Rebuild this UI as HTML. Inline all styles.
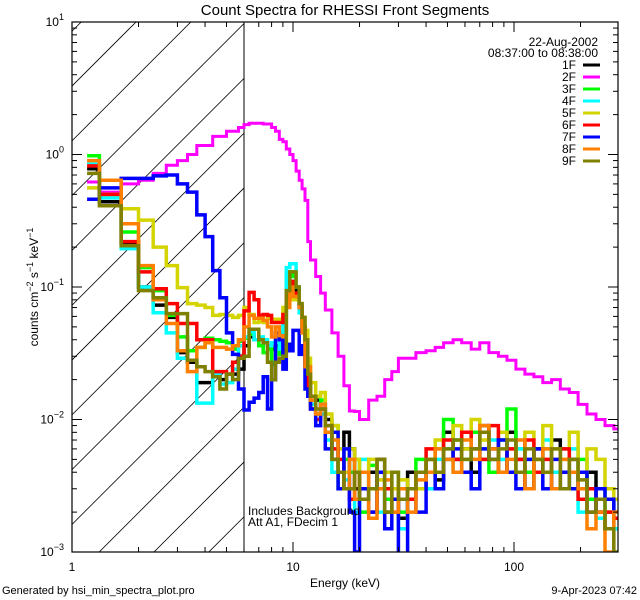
<!DOCTYPE html>
<html><head><meta charset="utf-8"><style>
html,body{margin:0;padding:0;background:#fff;}
svg{display:block;font-family:"Liberation Sans",sans-serif;}
</style></head><body>
<svg id="chart" width="640" height="600" viewBox="0 0 640 600" xmlns="http://www.w3.org/2000/svg">
<rect x="0" y="0" width="640" height="600" fill="#fff"/>
<text x="345" y="15" font-size="15" text-anchor="middle">Count Spectra for RHESSI Front Segments</text>
<defs><clipPath id="plotclip"><rect x="72" y="22" width="546" height="530"/></clipPath>
<clipPath id="hatchclip"><rect x="72" y="22" width="172" height="530"/></clipPath></defs>
<g id="hatch" clip-path="url(#hatchclip)"></g>
<line x1="244" y1="22" x2="244" y2="552" stroke="#000" stroke-width="1"/>
<g id="series" clip-path="url(#plotclip)"></g>
<g id="axes"></g>
<text x="345" y="587" font-size="12" text-anchor="middle">Energy (keV)</text>
<text transform="translate(38,287) rotate(-90)" font-size="12" text-anchor="middle">counts cm<tspan font-size="9" dy="-5">−2</tspan><tspan dy="5"> s</tspan><tspan font-size="9" dy="-5">−1</tspan><tspan dy="5"> keV</tspan><tspan font-size="9" dy="-5">−1</tspan></text>
<text x="248" y="515" font-size="12">Includes Background</text>
<text x="248" y="526" font-size="12">Att A1, FDecim 1</text>
<text x="598" y="46" font-size="12" text-anchor="end">22-Aug-2002</text>
<text x="598" y="57" font-size="12" text-anchor="end">08:37:00 to 08:38:00</text>
<g id="legend"></g>
<text x="2" y="594" font-size="11">Generated by hsi_min_spectra_plot.pro</text>
<text x="637" y="594" font-size="11" text-anchor="end">9-Apr-2023 07:42</text>
</svg>
<script>
const edges = [1.17,1.33,1.67,2,2.33,2.67,3,3.33,3.67,4,4.33,4.67,5,5.33,5.67,6,6.33,6.67,7,7.33,7.67,8,8.33,8.67,9,9.33,9.67,10,10.33,10.67,11,11.33,11.67,12,12.67,13.33,14,15,16,17,18,19,20,22,24,26,28,30,33,36,40,44,48,53,58,64,70,77,85,93,102,112,123,135,148,162,178,195,214,235,258,283,300];
const seriesNames = ["1F","2F","3F","4F","5F","6F","7F","8F","9F"];
const seriesColors = ["#000000","#ff00ff","#00ff00","#00ffff","#d4d400","#ff0000","#0000ff","#ff8000","#808000"];
const s1F = [0.78,0.44,0.215,0.1,0.073,0.059,0.032,0.027,0.019,0.019,0.022,0.02,0.022,0.022,0.024,0.036,0.042,0.04,0.036,0.038,0.036,0.034,0.036,0.036,0.045,0.085,0.11,0.1,0.09,0.07,0.05,0.025,0.018,0.015,0.014,
0.012,0.010,0.005,0.004,0.008,0.006,0.003,0.0025,0.004,0.005,0.002,0.003,0.0018,0.004,0.003,0.005,0.0035,0.008,0.005,0.006,0.004,0.009,0.006,0.004,0.008,0.005,0.003,0.006,0.004,0.007,0.003,0.005,0.003,0.004,0.002,0.0015,0.0025];
const s2F = [0.62,0.52,0.6,0.64,0.72,0.83,0.9,1.0,1.17,1.17,1.37,1.37,1.5,1.5,1.6,1.68,1.72,1.72,1.72,1.7,1.7,1.6,1.5,1.3,1.25,1.1,1.0,0.9,0.75,0.64,0.55,0.45,0.22,0.16,0.12,
0.09,0.067,0.045,0.03,0.018,0.0116,0.0115,0.01,0.014,0.015,0.02,0.023,0.029,0.029,0.032,0.033,0.035,0.038,0.04,0.038,0.034,0.038,0.032,0.03,0.028,0.024,0.022,0.021,0.019,0.02,0.017,0.016,0.013,0.011,0.01,0.009,0.0085];
const s3F = [0.98,0.5,0.26,0.14,0.094,0.061,0.042,0.033,0.035,0.041,0.04,0.039,0.038,0.034,0.039,0.041,0.044,0.04,0.036,0.032,0.034,0.026,0.034,0.031,0.036,0.12,0.13,0.12,0.1,0.07,0.05,0.03,0.02,0.013,0.011,
0.014,0.008,0.009,0.003,0.005,0.004,0.005,0.002,0.0045,0.003,0.0025,0.004,0.002,0.003,0.005,0.004,0.006,0.010,0.007,0.005,0.008,0.005,0.004,0.007,0.012,0.006,0.004,0.005,0.006,0.004,0.006,0.003,0.005,0.0025,0.003,0.002,0.0018];
const s4F = [0.85,0.47,0.195,0.1,0.064,0.045,0.029,0.028,0.0133,0.0133,0.022,0.0185,0.019,0.024,0.036,0.042,0.046,0.04,0.042,0.04,0.036,0.038,0.04,0.034,0.057,0.14,0.15,0.15,0.1,0.064,0.048,0.025,0.017,0.013,0.01,
0.011,0.007,0.004,0.006,0.0035,0.003,0.002,0.005,0.003,0.002,0.004,0.003,0.0015,0.003,0.004,0.003,0.005,0.006,0.004,0.008,0.005,0.006,0.007,0.005,0.004,0.006,0.005,0.004,0.007,0.004,0.003,0.006,0.002,0.003,0.0018,0.0025,0.0015];
const s5F = [0.56,0.5,0.39,0.32,0.2,0.145,0.099,0.075,0.073,0.07,0.061,0.062,0.061,0.059,0.061,0.07,0.062,0.054,0.055,0.054,0.058,0.057,0.057,0.056,0.07,0.08,0.085,0.08,0.085,0.075,0.059,0.047,0.029,0.019,0.015,
0.016,0.011,0.009,0.006,0.004,0.006,0.005,0.003,0.005,0.0035,0.004,0.003,0.0035,0.0025,0.003,0.005,0.007,0.005,0.009,0.006,0.010,0.007,0.005,0.008,0.006,0.004,0.008,0.005,0.009,0.006,0.005,0.008,0.004,0.006,0.005,0.003,0.0025];
const s6F = [0.82,0.5,0.22,0.13,0.097,0.075,0.053,0.053,0.04,0.04,0.023,0.023,0.022,0.027,0.03,0.066,0.091,0.08,0.061,0.062,0.061,0.054,0.054,0.054,0.062,0.08,0.11,0.09,0.085,0.07,0.05,0.025,0.017,0.012,0.01,
0.012,0.009,0.006,0.005,0.003,0.0025,0.004,0.003,0.002,0.004,0.003,0.002,0.003,0.0025,0.004,0.006,0.004,0.007,0.005,0.008,0.006,0.005,0.009,0.004,0.006,0.005,0.007,0.004,0.005,0.003,0.006,0.004,0.0025,0.003,0.002,0.002,0.0018];
const s7F = [0.46,0.56,0.66,0.66,0.69,0.7,0.6,0.52,0.35,0.24,0.133,0.083,0.045,0.031,0.017,0.0118,0.0135,0.0145,0.016,0.021,0.012,0.02,0.045,0.04,0.024,0.037,0.033,0.047,0.047,0.031,0.036,0.017,0.015,0.012,0.009,
0.013,0.006,0.008,0.003,0.006,0.002,0.001,0.003,0.002,0.004,0.0015,0.0025,0.0009,0.003,0.002,0.004,0.003,0.005,0.006,0.004,0.003,0.006,0.005,0.007,0.004,0.003,0.005,0.006,0.003,0.005,0.004,0.003,0.004,0.002,0.003,0.0025,0.002];
const s8F = [0.9,0.64,0.3,0.145,0.08,0.053,0.033,0.023,0.035,0.038,0.035,0.035,0.034,0.036,0.04,0.05,0.061,0.058,0.058,0.056,0.05,0.042,0.05,0.043,0.042,0.07,0.1,0.085,0.085,0.07,0.045,0.025,0.025,0.014,0.011,
0.013,0.008,0.007,0.004,0.003,0.005,0.0025,0.004,0.0018,0.003,0.0035,0.002,0.003,0.002,0.0035,0.004,0.006,0.005,0.004,0.007,0.005,0.009,0.006,0.004,0.005,0.007,0.003,0.005,0.006,0.003,0.005,0.004,0.003,0.0015,0.002,0.001,0.002];
const s9F = [0.72,0.41,0.205,0.094,0.083,0.063,0.063,0.028,0.025,0.023,0.021,0.017,0.022,0.02,0.029,0.03,0.048,0.048,0.04,0.038,0.027,0.02,0.027,0.029,0.03,0.094,0.13,0.13,0.1,0.075,0.059,0.04,0.022,0.015,0.012,
0.012,0.009,0.005,0.004,0.003,0.003,0.004,0.0025,0.003,0.005,0.002,0.004,0.0025,0.003,0.004,0.005,0.004,0.006,0.007,0.005,0.006,0.008,0.005,0.006,0.007,0.004,0.006,0.005,0.004,0.006,0.003,0.005,0.0035,0.002,0.0025,0.0015,0.001];
const seriesValues = [s1F,s2F,s3F,s4F,s5F,s6F,s7F,s8F,s9F];
const xTickValues = [1,10,100];
const xTickLabels = ["1","10","100"];
const yTickExps = [1,0,-1,-2,-3];

const NS = "http://www.w3.org/2000/svg";
const X0=72, X1=618, Y0=22, Y1=552;
const xDec=221, yDec=132.5;
function xScale(e){return X0 + xDec*Math.log10(e);}
function yScale(v){return 154.5 - yDec*Math.log10(v);}
function mk(tag, attrs, parent){const el=document.createElementNS(NS,tag);for(const k in attrs)el.setAttribute(k,attrs[k]);parent.appendChild(el);return el;}

// hatch
const hatch=document.getElementById('hatch');
for(let k=-2;k<14;k++){
  const c=158+54.8*k;
  const ln=mk('line',{x1:c-600,y1:600,x2:c,y2:0,stroke:'#000','stroke-width':0.8},hatch);
  
  
}

// series
const sg=document.getElementById('series');
seriesValues.forEach((vals,si)=>{
  let d='';
  for(let i=0;i<vals.length;i++){
    const xa=xScale(edges[i]).toFixed(1), xb=xScale(edges[i+1]).toFixed(1), y=yScale(vals[i]).toFixed(1);
    d += (i===0?'M':'L')+xa+','+y+'L'+xb+','+y;
  }
  const p=mk('path',{d:d,fill:'none',stroke:seriesColors[si],'stroke-width':si===1?3:3.5,'stroke-linejoin':'miter'},sg);
  
  
});

// axes
const ax=document.getElementById('axes');
const frame=mk('rect',{x:X0,y:Y0,width:X1-X0,height:Y1-Y0,fill:'none',stroke:'#000','stroke-width':1.2},ax);


for(let dec=0;dec<3;dec++){
  for(let m=1;m<10;m++){
    const e=m*Math.pow(10,dec); const x=xScale(e); if(x>X1) continue;
    const L=m===1?10:5;
    const t1=mk('line',{x1:x,y1:Y1,x2:x,y2:Y1-L,stroke:'#000'},ax);
    
    
    const t2=mk('line',{x1:x,y1:Y0,x2:x,y2:Y0+L,stroke:'#000'},ax);
    
    
  }
}
xTickValues.forEach((v,i)=>{
  const t=mk('text',{x:xScale(v),y:571,'font-size':12,'text-anchor':'middle'},ax);
  t.textContent=xTickLabels[i];
  
  
});
for(let ex=-3;ex<1;ex++){
  for(let m=1;m<10;m++){
    const y=yScale(m*Math.pow(10,ex));
    const L=m===1?10:5;
    const a=mk('line',{x1:X0,y1:y,x2:X0+L,y2:y,stroke:'#000'},ax);
    
    
    const b=mk('line',{x1:X1,y1:y,x2:X1-L,y2:y,stroke:'#000'},ax);
    
    
  }
}
yTickExps.forEach(ex=>{
  const y=yScale(Math.pow(10,ex));
  const t=mk('text',{x:64,y:y+4,'font-size':12,'text-anchor':'end'},ax);
  t.innerHTML='10<tspan font-size="9" dy="-6">'+(ex<0?'−'+(-ex):ex)+'</tspan>';
  
  
});

// legend
const lg=document.getElementById('legend');
seriesNames.forEach((n,i)=>{
  const y=65+12*i;
  const g=mk('g',{},lg);
  
  
  const t=mk('text',{x:576,y:y+4,'font-size':12,'text-anchor':'end'},g);
  t.textContent=n;
  mk('line',{x1:583,y1:y,x2:600,y2:y,stroke:seriesColors[i],'stroke-width':3},g);
});
</script>
</body></html>
